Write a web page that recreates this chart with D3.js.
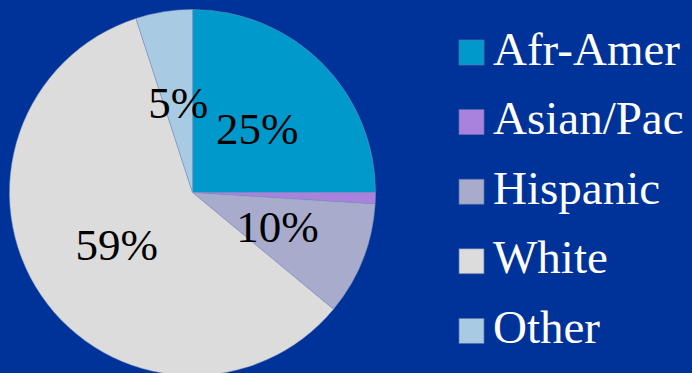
<!DOCTYPE html>
<html>
<head>
<meta charset="utf-8">
<script src="https://cdn.jsdelivr.net/npm/d3@7"></script>
<style>
  html, body { margin: 0; padding: 0; background: #003399; overflow: hidden; }
  svg { display: block; }
  text { font-family: "Liberation Serif", "Times New Roman", serif; }
</style>
</head>
<body>
<svg id="chart" width="692" height="373"></svg>
<script>
const categories = ["Afr-Amer", "Asian/Pac", "Hispanic", "White", "Other"];
const values = [25, 1, 10, 59, 5];
const labels = ["25%", "", "10%", "59%", "5%"];
const colors = ["#0099CC", "#A982DE", "#A8ABCB", "#DCDCDC", "#A9CAE3"];

const W = 692, H = 373;
const cx = 192.5, cy = 192.5, R = 183;

const svg = d3.select("#chart");
svg.append("rect").attr("width", W).attr("height", H).attr("fill", "#003399");

const data = categories.map((c, i) => ({ name: c, value: values[i], label: labels[i], color: colors[i] }));

const pie = d3.pie().value(d => d.value).sort(null);
const arc = d3.arc().innerRadius(0).outerRadius(R);
const arcs = pie(data);

const g = svg.append("g").attr("transform", `translate(${cx},${cy})`);
g.selectAll("path").data(arcs).join("path")
  .attr("d", arc)
  .attr("fill", d => d.data.color)
  .attr("stroke", "#7f93c0")
  .attr("stroke-width", 0.5);

g.selectAll("text").data(arcs.filter(d => d.data.label)).join("text")
  .attr("transform", d => { const [x, y] = arc.centroid(d); return `translate(${x},${y})`; })
  .attr("text-anchor", "middle")
  .attr("dy", "0.35em")
  .style("font-size", "45px")
  .attr("fill", "#000")
  .text(d => d.data.label);

const legend = svg.append("g");
const y0 = 40, step = 69.6;
const rows = legend.selectAll("g").data(data).join("g")
  .attr("transform", (d, i) => `translate(459,${y0 + i * step})`);
rows.append("rect")
  .attr("width", 25).attr("height", 25)
  .attr("fill", d => d.color)
  .attr("stroke", "#5a6fae").attr("stroke-width", 0.7);
rows.append("text")
  .attr("x", 34).attr("y", 24.5)
  .style("font-size", "47px")
  .attr("fill", "#ffffff")
  .text(d => d.name);
</script>
</body>
</html>
